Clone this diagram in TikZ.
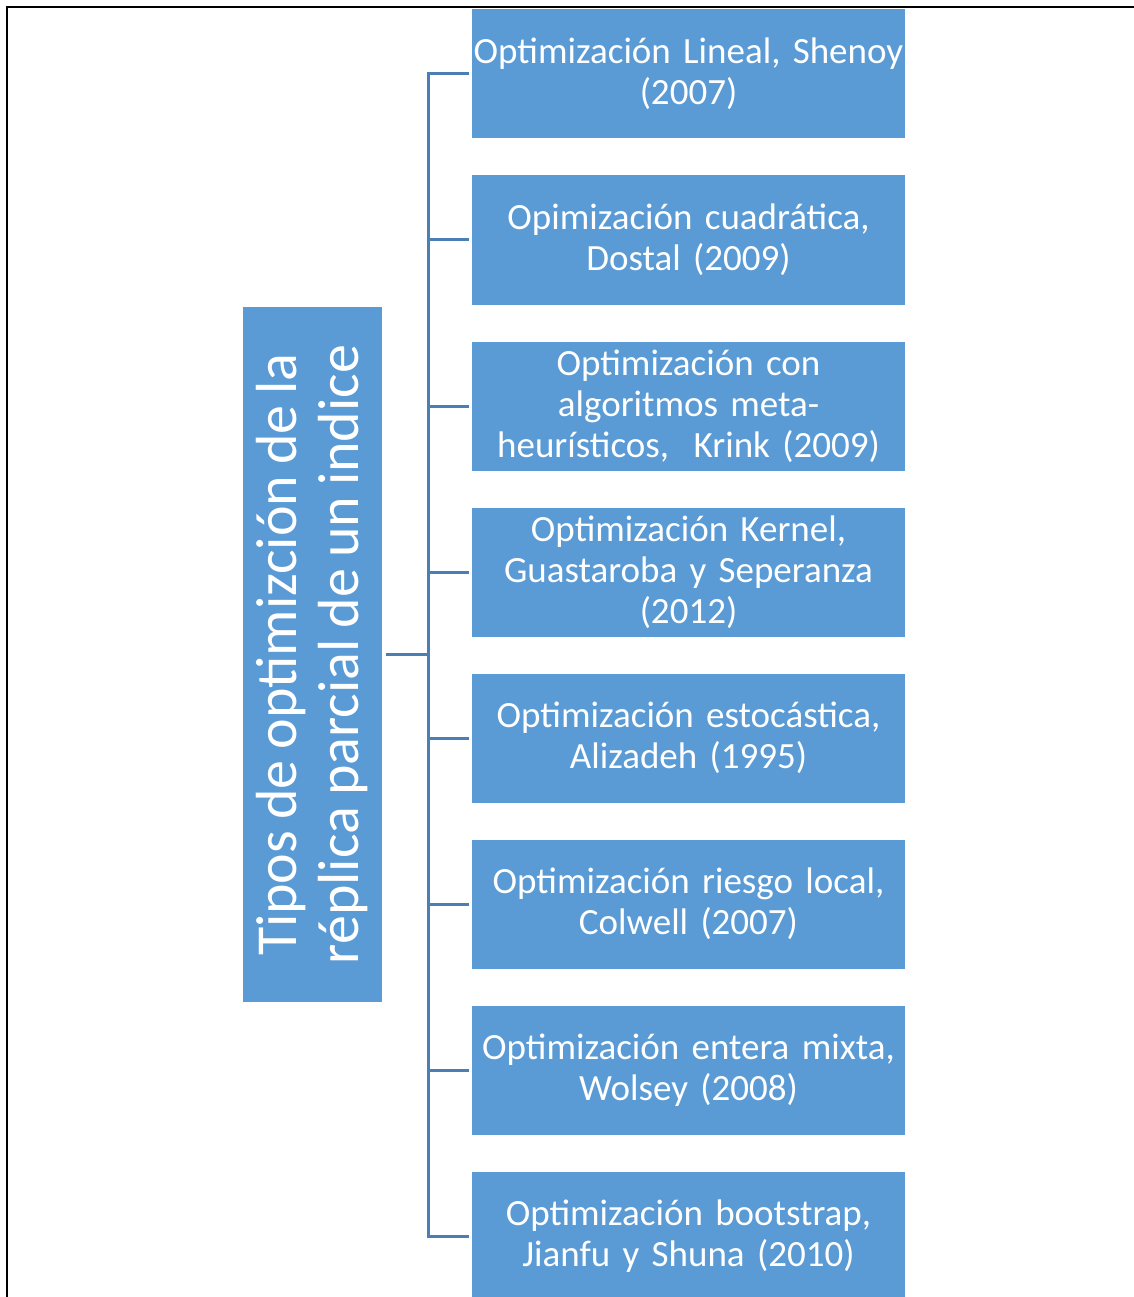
\documentclass[tikz,border=0pt]{standalone}
\usepackage{fontspec}
\setmainfont{Carlito}[WordSpace={0.85,1,1}]
\definecolor{boxblue}{HTML}{5B9BD5}
\definecolor{linkblue}{HTML}{4A7EB4}
\begin{document}
\begin{tikzpicture}[x=1pt,y=-1pt,
  item/.style={fill=boxblue, text=white, minimum width=433pt, minimum height=129pt,
    inner sep=0pt, text width=433pt, align=center,
    font=\fontsize{37}{41}\selectfont},
  mainbox/.style={fill=boxblue, text=white, rotate=90, minimum width=695pt, minimum height=139pt,
    inner sep=0pt, align=center, font=\fontsize{58}{62}\selectfont},
  link/.style={draw=linkblue, line width=3pt}]
\useasboundingbox (0,0) rectangle (1133,1297);
\draw[line width=2.5pt, line cap=rect] (7,1300) coordinate (bl) -- (7,7) coordinate (tl) -- (1136,7) coordinate (tr);
\node[mainbox] (main) at (312.5,654.5) {Tipos de optimizción de la\\réplica parcial de un indice};
\node[item] (b1) at (688.5,74) {Optimización Lineal, Shenoy\\(2007)};
\node[item] (b2) at (688.5,240) {Opimización cuadrática,\\Dostal (2009)};
\node[item] (b3) at (688.5,406) {Optimización con\\algoritmos meta-\\heurísticos,\ \ Krink (2009)};
\node[item] (b4) at (688.5,572) {Optimización Kernel,\\Guastaroba y Seperanza\\(2012)};
\node[item] (b5) at (688.5,738) {Optimización estocástica,\\Alizadeh (1995)};
\node[item] (b6) at (688.5,904) {Optimización riesgo local,\\Colwell (2007)};
\node[item] (b7) at (688.5,1070) {Optimización entera mixta,\\Wolsey (2008)};
\node[item] (b8) at (688.5,1236) {Optimización bootstrap,\\Jianfu y Shuna (2010)};
\coordinate (hub) at (428,654.5);
\draw[link, shorten <=4pt] (main.south) -- (hub);
\draw[link, line cap=rect] (hub|-b1.west) -- (hub|-b8.west);
\foreach \i in {1,...,8}{
  \draw[link, shorten >=3pt] (hub|-b\i.west) -- (b\i.west);
}
\end{tikzpicture}
\end{document}
